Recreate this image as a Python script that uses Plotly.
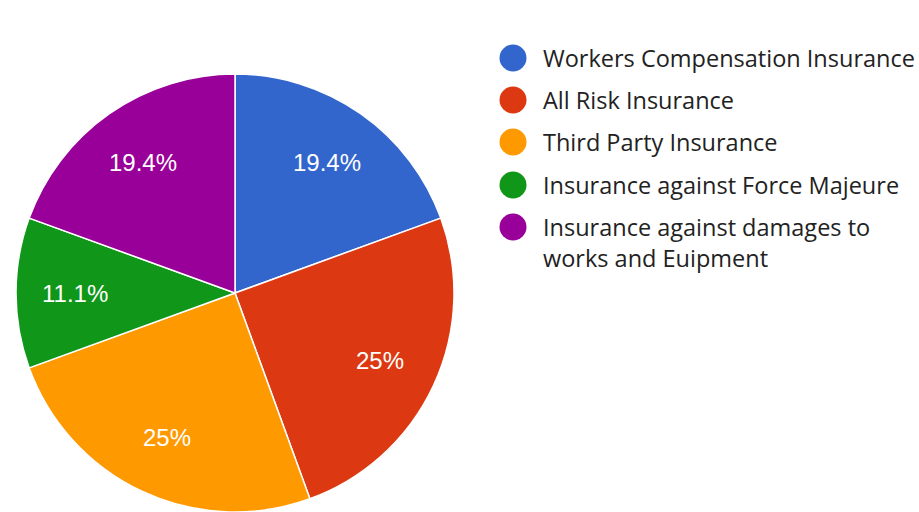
import math
import plotly.graph_objects as go

# Survey responses per insurance type
categories = [
    "Workers Compensation Insurance",
    "All Risk Insurance",
    "Third Party Insurance",
    "Insurance against Force Majeure",
    "Insurance against damages to<br>works and Euipment",
]
counts = [7, 9, 9, 4, 7]
colors = ["#3366cc", "#dc3912", "#ff9900", "#109618", "#990099"]

W, H = 919, 512


def fx(px):
    return px / W


def fy(py):
    return 1 - py / H


fig = go.Figure()

# Pie geometry in pixels
cx, cy, r = 235, 293, 219
dom_x = [fx(cx - r), fx(cx + r)]
dom_y = [fy(cy + r), fy(cy - r)]

fig.add_trace(go.Pie(
    labels=categories,
    values=counts,
    sort=False,
    direction="clockwise",
    rotation=0,
    marker=dict(colors=colors, line=dict(color="white", width=1.5)),
    textinfo="none",
    hoverinfo="label+percent",
    showlegend=False,
    domain=dict(x=dom_x, y=dom_y),
))

# Percentage labels placed along each slice's bisector
total = sum(counts)
acc = 0
annotations = []
for v in counts:
    mid = (acc + v / 2) / total * 2 * math.pi
    acc += v
    lr = 0.73 * r
    tx = cx + lr * math.sin(mid)
    ty = cy - lr * math.cos(mid)
    pct = round(v / total * 100, 1)
    txt = (f"{pct:.1f}".rstrip("0").rstrip(".")) + "%"
    annotations.append(dict(
        x=fx(tx), y=fy(ty), xref="paper", yref="paper",
        text=txt, showarrow=False, xanchor="center", yanchor="middle",
        font=dict(family="Liberation Sans, Arial, sans-serif", size=24, color="white"),
    ))

# Legend: colored dots with labels
shapes = []
row_y = [58, 100, 142, 185, 227]
dot_x, dot_r = 513, 13.5
for i, (name, col) in enumerate(zip(categories, colors)):
    y = row_y[i]
    shapes.append(dict(
        type="circle", xref="paper", yref="paper",
        x0=fx(dot_x - dot_r), x1=fx(dot_x + dot_r),
        y0=fy(y + dot_r), y1=fy(y - dot_r),
        fillcolor=col, line=dict(width=0),
    ))
    annotations.append(dict(
        x=fx(541), y=fy(y - 18), xref="paper", yref="paper",
        text=name, showarrow=False, xanchor="left", yanchor="top", align="left",
        font=dict(family="Open Sans, sans-serif", size=23.5, color="#222222"),
    ))

fig.update_layout(
    width=W, height=H,
    margin=dict(l=0, r=0, t=0, b=0),
    paper_bgcolor="white",
    plot_bgcolor="white",
    shapes=shapes,
    annotations=annotations,
)

fig.write_html("out.html")
